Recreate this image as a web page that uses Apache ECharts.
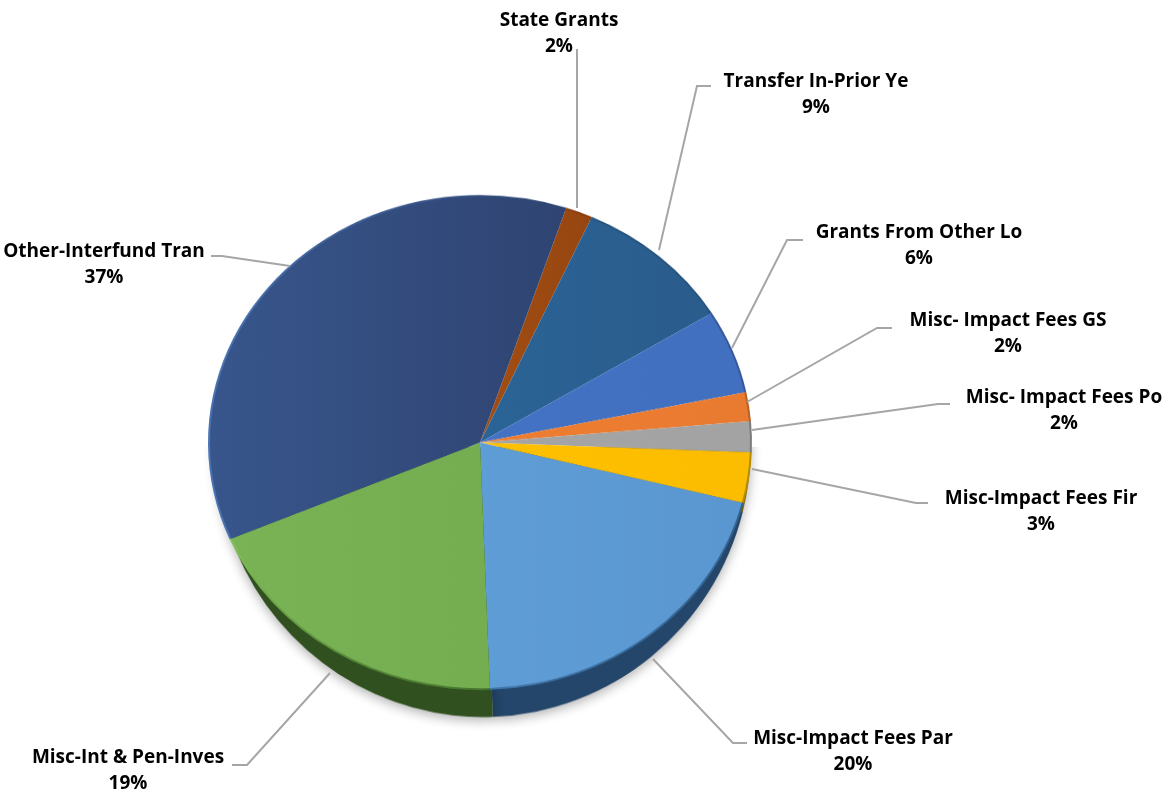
<!DOCTYPE html>
<html>
<head>
<meta charset="utf-8">
<style>
html,body{margin:0;padding:0;background:#fff;overflow:hidden}
#stage{position:relative;width:1168px;height:797px;overflow:hidden}
#rimClip{position:absolute;left:0;top:0;width:1168px;height:797px;clip-path:inset(447px 0 0 0)}
#rim{position:absolute;left:0;top:0;width:1168px;height:785px;transform:scaleY(1.015);transform-origin:0 0}
#pie{position:absolute;left:0;top:0;width:1168px;height:876px;transform:scaleY(0.91);transform-origin:0 0}
#labels{position:absolute;left:0;top:0;width:1168px;height:797px}
</style>
<script src="https://cdn.jsdelivr.net/npm/echarts@6/dist/echarts.min.js"></script>
</head>
<body>
<div id="stage"><div id="rimClip"><div id="rim"></div></div><div id="pie"></div><div id="labels"></div></div>
<script>
const categories = ['State Grants','Transfer In-Prior Ye','Grants From Other Lo','Misc- Impact Fees GS','Misc- Impact Fees Po','Misc-Impact Fees Fir','Misc-Impact Fees Par','Misc-Int & Pen-Inves','Other-Interfund Tran'];
const values = [1.6, 9.49, 5.5, 1.9, 2.0, 3.3, 20.49, 19.2, 36.52];
const topColorsA = ['#a34e14','#2a6496','#4472c4','#ed7d31','#a5a5a5','#ffc000','#5f9dd6','#79b355','#38568c'];
const topColorsB = ['#964610','#2a5c8c','#4270c0','#e97b30','#a3a3a3','#fcbd00','#5a97d0','#74ae50','#2f4472'];
const edgeColorsA = ['#8a4010','#26547f','#37599c','#b85f22','#7a7a7a','#b88c00','#3f77ac','#84c45c','#4a74b4'];
const edgeColorsB = ['#8a4010','#26547f','#37599c','#b85f22','#7a7a7a','#b88c00','#33628f','#4a7a30','#2e4470'];
const rimColors  = ['#5e2b09','#1d3f5e','#2a4478','#8a4a1c','#5e5e5e','#866400','#24466a','#30501f','#22345a'];

// Label placement (centre of the two-line label) and leader-line elbow/end, in page pixels.
const labelLayouts = [
  {c:[559,34],  line:[[577,49],[577,208]]},
  {c:[816,95],  line:[[711,86],[697,86],[659,250]]},
  {c:[919,246], line:[[803,240],[787,240],[732,348]]},
  {c:[1008,334],line:[[892,328],[877,328],[747,402]]},
  {c:[1064,411],line:[[950,404],[938,404],[752,430]]},
  {c:[1041,512],line:[[928,503],[916,503],[752,469]]},
  {c:[853,752], line:[[747,743],[733,743],[653,659]]},
  {c:[128,771], line:[[232,765],[247,765],[330,673]]},
  {c:[104,265], line:[[211,256],[222,256],[290,266]]}
];

const START = 71.5, R = 272, CX = 480, TOP_CY = 486.3;

const hGradient = (a, b) => ({type:'linear',x:0,y:0,x2:1,y2:0,colorStops:[{offset:0,color:a},{offset:1,color:b}]});
const vGradient = (a, b) => ({type:'linear',x:0,y:0,x2:0,y2:1,colorStops:[{offset:0,color:a},{offset:1,color:b}]});
const base = {type:'pie',startAngle:START,clockwise:true,percentPrecision:0,silent:true,animation:false,
  minAngle:0,avoidLabelOverlap:false,label:{show:false},labelLine:{show:false},emphasis:{disabled:true}};

const rimChart = echarts.init(document.getElementById('rim'), null, {renderer:'canvas'});
rimChart.setOption({
  animation:false,
  series:[Object.assign({}, base, {center:[483,438.4],radius:[0,268],
    data:categories.map((n,i)=>({name:n,value:values[i],itemStyle:{color:rimColors[i],shadowBlur:12,shadowColor:'rgba(0,0,0,0.32)',shadowOffsetY:3}}))})]
});

const pieChart = echarts.init(document.getElementById('pie'), null, {renderer:'canvas'});
pieChart.setOption({
  animation:false,
  series:[
    Object.assign({}, base, {center:[CX,TOP_CY],radius:[R-4,R],
      data:categories.map((n,i)=>({name:n,value:values[i],itemStyle:{color:i===7?vGradient(edgeColorsA[i],edgeColorsB[i]):hGradient(edgeColorsA[i],edgeColorsB[i])}}))}),
    Object.assign({}, base, {center:[CX,TOP_CY],radius:[0,R-2],
      data:categories.map((n,i)=>({name:n,value:values[i],itemStyle:{color:hGradient(topColorsA[i],topColorsB[i])}}))})
  ]
});

const labelChart = echarts.init(document.getElementById('labels'), null, {renderer:'canvas'});
labelChart.setOption({
  animation:false,
  series:[Object.assign({}, base, {
    center:[CX,442],radius:[0,250],
    data:categories.map((n,i)=>({name:n,value:values[i]})),
    itemStyle:{color:'rgba(0,0,0,0)'},
    label:{show:true,position:'outside',formatter:'{b}\n{d}%',fontFamily:'Open Sans',fontWeight:'bold',fontSize:19,lineHeight:26,color:'#000',align:'center'},
    labelLine:{show:true,lineStyle:{color:'#a6a6a6',width:2}},
    labelLayout:(p)=>{const l=labelLayouts[p.dataIndex];return {x:l.c[0],y:l.c[1],align:'center',verticalAlign:'middle',labelLinePoints:l.line};}
  })]
});
</script>
</body>
</html>
